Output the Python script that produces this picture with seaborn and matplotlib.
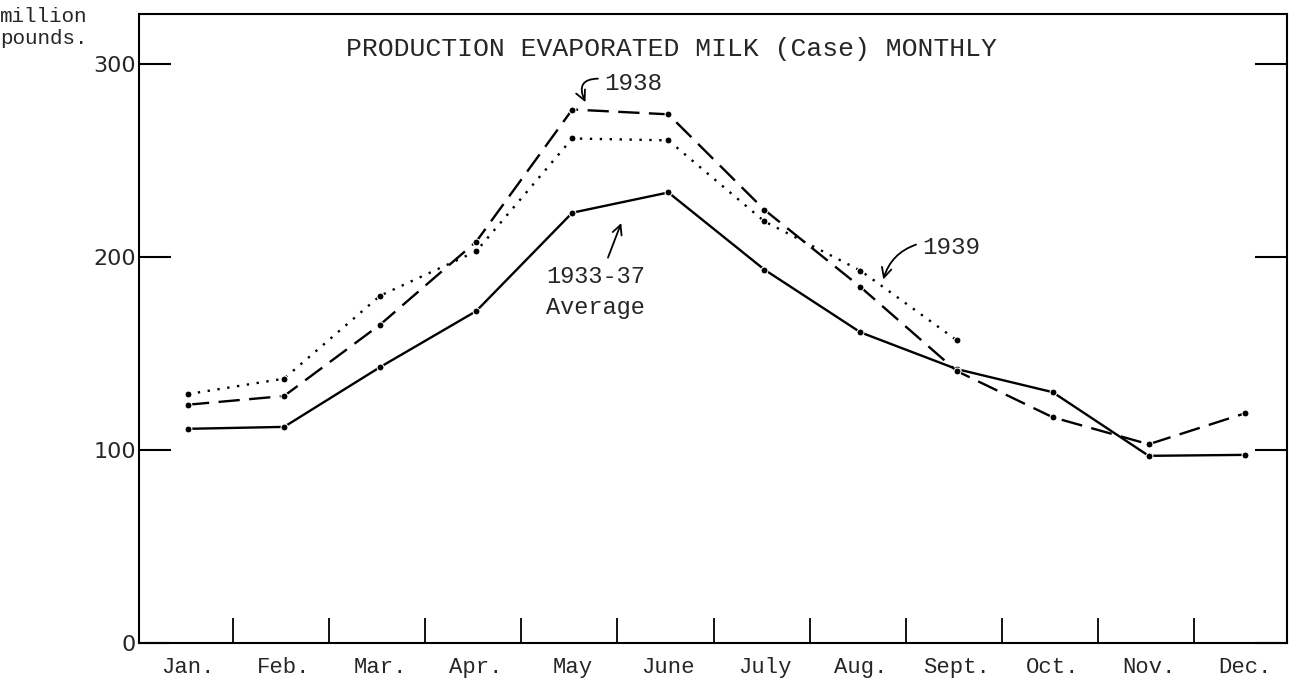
import matplotlib
matplotlib.use("Agg")
import matplotlib.pyplot as plt
import seaborn as sns
import pandas as pd
import numpy as np

months = ["Jan.", "Feb.", "Mar.", "Apr.", "May", "June", "July",
          "Aug.", "Sept.", "Oct.", "Nov.", "Dec."]
avg_1933_37 = [111, 112, 143, 172, 223, 233.5, 193.5, 161, 142, 130, 97, 97.5]
y1938 = [123.5, 128, 165, 208, 276.5, 274, 224.5, 184.5, 141, 117, 103, 119]
y1939 = [129, 137, 180, 203, 261.5, 260.5, 218.5, 193, 157]
y_ticks = [0, 100, 200, 300]

rows = []
for name, vals in [("1933-37 Average", avg_1933_37), ("1938", y1938), ("1939", y1939)]:
    for i, v in enumerate(vals):
        rows.append({"month": i, "value": v, "series": name})
df = pd.DataFrame(rows)

sns.set_theme(style="white")
plt.rcParams["font.family"] = ["Liberation Mono", "DejaVu Sans Mono"]

fig = plt.figure(figsize=(12.93, 6.86), dpi=100)
ax = fig.add_axes([0.1075, 0.0627, 0.8879, 0.9169])

dashes = {"1933-37 Average": "", "1938": (9, 4), "1939": (1, 3.2)}
sns.lineplot(data=df, x="month", y="value", style="series", dashes=dashes,
             markers={"1933-37 Average": "o", "1938": "o", "1939": "o"},
             color="black", linewidth=1.7, markersize=5, ax=ax, legend=False)

ax.set_xlim(-0.51, 11.44)
ax.set_ylim(0, 326)
ax.set_xlabel("")
ax.set_ylabel("")

ax.set_xticks(range(len(months)))
ax.set_xticklabels(months, fontsize=16)
ax.set_xticks([i + 0.47 for i in range(11)], minor=True)
ax.tick_params(axis="x", which="major", length=0, pad=10)
ax.tick_params(axis="x", which="minor", direction="in", length=18, width=1.3,
               bottom=True, color="black")

ax.set_yticks(y_ticks)
ax.set_yticklabels([str(t) for t in y_ticks], fontsize=16, family="DejaVu Sans")
ax.tick_params(axis="y", which="major", direction="in", length=23, width=1.5,
               left=True, right=True, color="black", pad=2)

for s in ax.spines.values():
    s.set_visible(True)
    s.set_color("black")
    s.set_linewidth(1.5)

fig.text(0.0, 0.99, "million\npounds.", fontsize=15, va="top", ha="left",
         linespacing=1.2)
ax.text(0.464, 0.944, "PRODUCTION EVAPORATED MILK (Case) MONTHLY",
        transform=ax.transAxes, ha="center", va="center", fontsize=19)

ax.annotate("1938", xy=(4.15, 279), xytext=(4.33, 290), fontsize=17.5,
            ha="left", va="center",
            arrowprops=dict(arrowstyle="->", color="black", lw=1.3,
                            relpos=(0.0, 0.7),
                            connectionstyle="arc3,rad=0.9"))
ax.annotate("1939", xy=(7.23, 187), xytext=(7.64, 205), fontsize=17.5,
            ha="left", va="center",
            arrowprops=dict(arrowstyle="->", color="black", lw=1.3,
                            relpos=(0.0, 0.7),
                            connectionstyle="arc3,rad=0.3"))
ax.annotate("1933-37\nAverage", xy=(4.52, 219), xytext=(4.24, 182), fontsize=17,
            ha="center", va="center", linespacing=1.45,
            arrowprops=dict(arrowstyle="->", color="black", lw=1.3,
                            relpos=(0.6, 1.0), shrinkA=3))

fig.savefig("out.png", dpi=100, facecolor="white")
